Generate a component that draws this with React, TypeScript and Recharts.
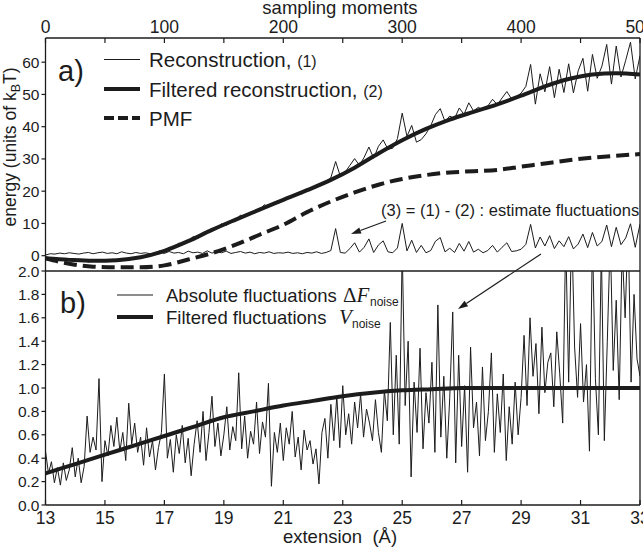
import React from 'react';
import { LineChart, Line, XAxis, YAxis } from 'recharts';

const W = 643;
const H = 547;
const INK = '#1c1c1c';
const SANS = '"Liberation Sans", Arial, Helvetica, sans-serif';
const SERIF = '"Liberation Serif", "Times New Roman", serif';

// panel a) : energy vs sampling moments (top axis)
const momentTicks = [0, 50, 100, 150, 200, 250, 300, 350, 400, 450, 500];
const energyTicks = [0, 10, 20, 30, 40, 50, 60];
const energyDomain = [-4.75, 67.5];

const smoothMoments = [0, 20, 40, 60, 80, 100, 120, 140, 160, 180, 200, 220, 240, 260, 280, 300, 320, 340, 360, 380, 400, 420, 440, 460, 480, 500];
const filteredRecon = [-0.8, -1.3, -1.6, -1.4, -0.5, 1.5, 4.5, 8.0, 11.2, 14.3, 17.3, 20.3, 23.5, 27.3, 31.7, 35.8, 39.3, 42.2, 44.6, 46.9, 49.6, 52.5, 54.8, 56.2, 56.6, 56.2];
const pmf = [-0.8, -2.5, -3.4, -3.6, -3.6, -3.0, -1.2, 0.8, 3.4, 6.5, 9.6, 13.5, 16.8, 19.6, 22.0, 23.8, 25.0, 25.8, 26.2, 26.6, 27.6, 28.6, 29.6, 30.4, 31.0, 31.5];

// noisy series, one value every 4 sampling moments (0..500)
const NOISE_STEP = 4;
const reconstruction = [
  -0.5, -1.1, -0.7, -1.4, -0.9, -1.0, -1.7, -1.1, -1.3, -2.0, -1.2, -1.8, -1.3, -1.9, -1.1, -1.6, -0.9, -1.4, -0.5, -1.0, -0.3, -0.4, 0.6, 0.3, 1.5,
  1.2, 2.6, 2.2, 3.9, 3.5, 4.2, 5.9, 5.4, 6.3, 7.9, 7.6, 8.3, 9.9, 9.4, 10.3, 11.0, 12.6, 12.0, 13.5, 13.2, 14.0, 15.8, 15.1, 16.6, 16.2,
  17.5, 18.3, 18.2, 19.2, 19.2, 20.6, 20.7, 22.0, 21.9, 23.0, 24.2, 29.2, 24.6, 25.9, 28.0, 30.1, 28.0, 30.5, 33.7, 30.2, 33.9, 35.9, 33.0, 33.3, 36.3,
  44.2, 37.0, 40.4, 35.2, 36.0, 37.8, 40.3, 43.8, 45.6, 41.6, 43.3, 42.5, 45.8, 43.8, 47.4, 44.9, 46.0, 45.2, 46.4, 48.5, 46.8, 48.9, 50.9, 48.6, 49.3,
  50.4, 52.5, 59.3, 47.0, 56.4, 50.8, 58.6, 49.0, 57.8, 50.6, 59.5, 50.5, 57.3, 61.2, 51.0, 62.4, 55.0, 58.8, 65.5, 53.2, 65.0, 55.4, 60.6, 66.2, 54.8, 62.0,
];
const fluctuations3 = [
  0.2, 0.6, 0.5, 0.8, 0.6, 0.9, 0.7, 0.5, 0.8, 1.0, 0.6, 0.9, 1.1, 0.7, 0.9, 0.6, 1.2, 0.8, 0.6, 1.0, 0.7, 0.9, 0.6, 0.8, 1.1,
  0.7, 1.3, 0.8, 1.0, 0.6, 1.4, 0.9, 1.1, 0.7, 1.5, 0.8, 1.2, 0.9, 1.4, 0.7, 1.0, 1.3, 0.8, 1.1, 0.6, 1.0, 0.8, 1.2, 0.7, 0.9,
  0.8, 1.1, 0.7, 0.9, 0.6, 1.0, 0.8, 1.2, 0.7, 1.0, 1.6, 8.4, 1.0, 0.8, 2.2, 4.0, 1.1, 2.6, 5.2, 1.0, 3.3, 4.6, 1.2, 0.9, 2.4,
  10.0, 1.5, 4.8, 1.0, 3.2, 0.9, 1.6, 4.5, 5.6, 1.2, 2.3, 1.0, 3.8, 1.4, 4.4, 1.1, 2.0, 0.9, 1.6, 3.2, 1.1, 2.6, 4.0, 1.3, 1.5,
  2.0, 3.5, 9.7, 2.4, 5.8, 3.0, 6.2, 2.2, 4.6, 2.8, 5.9, 2.1, 3.6, 6.7, 2.5, 7.2, 3.0, 4.4, 9.5, 2.8, 8.8, 3.4, 5.5, 9.9, 2.6, 9.8,
];

// panel b) : fluctuations vs extension (Å)
const extTicks = [13, 15, 17, 19, 21, 23, 25, 27, 29, 31, 33];
const noiseTicks = [0, 0.2, 0.4, 0.6, 0.8, 1.0, 1.2, 1.4, 1.6, 1.8, 2.0];
const extWhole = [13, 14, 15, 16, 17, 18, 19, 20, 21, 22, 23, 24, 25, 26, 27, 28, 29, 30, 31, 32, 33];
const vNoise = [0.27, 0.35, 0.43, 0.51, 0.59, 0.67, 0.75, 0.80, 0.85, 0.89, 0.93, 0.96, 0.98, 0.99, 1.0, 1.0, 1.0, 1.0, 1.0, 1.0, 1.0];

const EXT_STEP = 0.1;
const absFluct = [
  0.46, 0.27, 0.37, 0.19, 0.32, 0.17, 0.36, 0.21, 0.30, 0.49,
  0.24, 0.40, 0.19, 0.33, 0.76, 0.45, 0.58, 0.47, 1.08, 0.20,
  0.55, 0.42, 0.68, 0.50, 0.75, 0.46, 0.62, 0.38, 0.87, 0.52,
  0.70, 0.45, 0.58, 0.34, 0.66, 0.41, 0.55, 0.30, 0.49, 0.62,
  1.12, 0.40, 0.56, 0.28, 0.60, 0.44, 0.68, 0.36, 0.57, 0.25,
  0.52, 0.72, 0.45, 0.80, 0.38, 0.62, 0.93, 0.50, 0.70, 0.42,
  0.60, 0.84, 0.47, 0.67, 0.55, 1.13, 0.48, 0.76, 0.40, 0.63,
  0.52, 0.88, 0.44, 0.71, 0.58, 1.04, 0.16, 0.62, 0.45, 0.70,
  0.38, 0.66, 0.52, 0.80, 0.41, 0.58, 0.30, 0.64, 0.47, 0.55,
  0.35, 0.48, 0.18, 0.62, 0.74, 0.40, 0.86, 0.55, 0.93, 0.49,
  1.02, 0.60, 0.78, 0.52, 0.88, 0.66, 0.95, 0.58, 0.82, 0.70,
  0.55, 0.90, 0.62, 0.45, 0.98, 0.72, 1.56, 0.60, 1.28, 0.52,
  2.20, 0.85, 1.40, 0.24, 1.05, 0.62, 1.34, 0.48, 0.96, 0.70,
  1.22, 0.45, 1.71, 0.58, 1.10, 0.40, 0.92, 1.65, 0.36, 1.28,
  0.50, 1.02, 0.28, 1.35, 0.66, 0.88, 0.42, 1.18, 0.55, 0.80,
  1.30, 0.45, 0.95, 0.62, 1.12, 0.38, 0.84, 0.52, 1.05, 0.60,
  0.92, 1.45, 0.85, 1.60, 1.10, 1.38, 0.78, 1.52, 0.96, 1.22,
  1.30, 0.84, 1.48, 1.12, 0.70, 2.30, 1.05, 2.40, 1.35, 0.92,
  1.55, 0.88, 1.20, 0.46, 2.30, 1.08, 0.60, 2.20, 0.55, 1.40,
  2.30, 1.15, 1.75, 0.90, 2.20, 1.60, 2.40, 1.05, 1.80, 1.25,
  1.10,
];

const pairs = (xs: number[], ys: number[]) => xs.map((x, i) => ({ x, y: ys[i] }));
const onGrid = (x0: number, step: number, ys: number[]) =>
  ys.map((y, i) => ({ x: +(x0 + i * step).toFixed(2), y }));

const tickFont = (size: number) => ({ fontSize: size, fill: INK, fontFamily: SANS });
const axisLine = { stroke: INK, strokeWidth: 1.3 };
const tickLine = { stroke: INK, strokeWidth: 1.2 };

const Arrow = ({ x1, y1, x2, y2 }: { x1: number; y1: number; x2: number; y2: number }) => {
  const a = Math.atan2(y2 - y1, x2 - x1);
  const len = 10;
  const half = 3.2;
  const bx = x2 - len * Math.cos(a);
  const by = y2 - len * Math.sin(a);
  const px = -Math.sin(a) * half;
  const py = Math.cos(a) * half;
  return (
    <g>
      <line x1={x1} y1={y1} x2={bx} y2={by} stroke={INK} strokeWidth={1.2} />
      <polygon points={`${x2},${y2} ${bx + px},${by + py} ${bx - px},${by - py}`} fill={INK} />
    </g>
  );
};

export default function App() {
  return (
    <div style={{ position: 'absolute', left: 0, top: 0, width: W, height: H, background: '#fff', overflow: 'hidden' }}>
      {/* panel a) */}
      <div style={{ position: 'absolute', left: 0, top: 0 }}>
        <LineChart width={W} height={H} margin={{ top: 0, right: 2, bottom: 275, left: 0 }}>
          <XAxis
            xAxisId="top"
            orientation="top"
            type="number"
            dataKey="x"
            domain={[0, 500]}
            ticks={momentTicks}
            interval={0}
            allowDataOverflow
            height={38}
            tickSize={-5}
            tickMargin={10}
            tickFormatter={(v: number) => (v % 100 === 0 ? String(v) : '')}
            tick={tickFont(17.5)}
            axisLine={axisLine}
            tickLine={tickLine}
          />
          <XAxis
            xAxisId="bottom"
            orientation="bottom"
            type="number"
            dataKey="x"
            domain={[0, 500]}
            ticks={momentTicks}
            interval={0}
            allowDataOverflow
            height={1}
            tickSize={-5}
            tick={false}
            axisLine={axisLine}
            tickLine={tickLine}
          />
          <YAxis
            yAxisId="left"
            type="number"
            domain={energyDomain}
            ticks={energyTicks}
            interval={0}
            allowDataOverflow
            width={45.5}
            tickSize={4}
            tickMargin={2}
            tick={tickFont(15.5)}
            axisLine={axisLine}
            tickLine={tickLine}
          />
          <YAxis
            yAxisId="right"
            orientation="right"
            type="number"
            domain={energyDomain}
            ticks={energyTicks}
            interval={0}
            allowDataOverflow
            width={1}
            tickSize={-5}
            tick={false}
            axisLine={axisLine}
            tickLine={tickLine}
          />
          <Line xAxisId="top" yAxisId="left" data={onGrid(0, NOISE_STEP, fluctuations3)} dataKey="y" type="linear"
            stroke={INK} strokeWidth={1} dot={false} activeDot={false} isAnimationActive={false} />
          <Line xAxisId="top" yAxisId="left" data={pairs(smoothMoments, pmf)} dataKey="y" type="monotone"
            stroke={INK} strokeWidth={4} strokeDasharray="13 6" dot={false} activeDot={false} isAnimationActive={false} />
          <Line xAxisId="top" yAxisId="left" data={onGrid(0, NOISE_STEP, reconstruction)} dataKey="y" type="linear"
            stroke={INK} strokeWidth={1} dot={false} activeDot={false} isAnimationActive={false} />
          <Line xAxisId="top" yAxisId="left" data={pairs(smoothMoments, filteredRecon)} dataKey="y" type="monotone"
            stroke={INK} strokeWidth={4} dot={false} activeDot={false} isAnimationActive={false} />
        </LineChart>
      </div>

      {/* panel b) */}
      <div style={{ position: 'absolute', left: 0, top: 0 }}>
        <LineChart width={W} height={H} margin={{ top: 271, right: 2, bottom: 0, left: 0 }}>
          <XAxis
            xAxisId="ext"
            orientation="bottom"
            type="number"
            dataKey="x"
            domain={[13, 33]}
            ticks={extTicks}
            interval={0}
            allowDataOverflow
            height={42}
            tickSize={-5}
            tickMargin={12}
            tick={tickFont(17.5)}
            axisLine={axisLine}
            tickLine={tickLine}
          />
          <YAxis
            yAxisId="left"
            type="number"
            domain={[0, 2]}
            ticks={noiseTicks}
            interval={0}
            allowDataOverflow
            width={45.5}
            tickSize={4}
            tickMargin={2}
            tickFormatter={(v: number) => v.toFixed(1)}
            tick={tickFont(15.5)}
            axisLine={axisLine}
            tickLine={tickLine}
          />
          <YAxis
            yAxisId="right"
            orientation="right"
            type="number"
            domain={[0, 2]}
            ticks={noiseTicks}
            interval={0}
            allowDataOverflow
            width={1}
            tickSize={-5}
            tick={false}
            axisLine={axisLine}
            tickLine={tickLine}
          />
          <Line xAxisId="ext" yAxisId="left" data={onGrid(13, EXT_STEP, absFluct)} dataKey="y" type="linear"
            stroke={INK} strokeWidth={1} dot={false} activeDot={false} isAnimationActive={false} />
          <Line xAxisId="ext" yAxisId="left" data={pairs(extWhole, vNoise)} dataKey="y" type="monotone"
            stroke={INK} strokeWidth={4} dot={false} activeDot={false} isAnimationActive={false} />
        </LineChart>
      </div>

      {/* titles, legends and annotations */}
      <svg width={W} height={H} style={{ position: 'absolute', left: 0, top: 0, pointerEvents: 'none' }}
        fontFamily={SANS} fill={INK}>
        <text x={340} y={14} fontSize={18.5} textAnchor="middle">sampling moments</text>
        <text x={340} y={543} fontSize={18.5} textAnchor="middle" xmlSpace="preserve">extension  (Å)</text>
        <text transform="translate(16,147) rotate(-90)" fontSize={17.5} textAnchor="middle">
          energy (units of k<tspan fontSize={12.5} dy={4}>B</tspan><tspan dy={-4}>T)</tspan>
        </text>

        <text x={58} y={81} fontSize={29}>a)</text>
        <line x1={104} x2={140} y1={59.5} y2={59.5} stroke={INK} strokeWidth={1.2} />
        <text x={149} y={66.5} fontSize={20.5}>Reconstruction, <tspan fontSize={16}>(1)</tspan></text>
        <line x1={104} x2={140} y1={89} y2={89} stroke={INK} strokeWidth={4} />
        <text x={149} y={96.5} fontSize={20.5}>Filtered reconstruction, <tspan fontSize={16}>(2)</tspan></text>
        <line x1={104} x2={140} y1={118} y2={118} stroke={INK} strokeWidth={4} strokeDasharray="10 4" />
        <text x={149} y={125.5} fontSize={20.5}>PMF</text>

        <text x={381} y={216} fontSize={16.5}>(3) = (1) - (2) : estimate fluctuations</text>
        <Arrow x1={386} y1={221} x2={351} y2={234} />
        <Arrow x1={541} y1={254} x2={458} y2={309} />

        <text x={60} y={313} fontSize={29}>b)</text>
        <line x1={117} x2={153} y1={295} y2={295} stroke={INK} strokeWidth={1.2} />
        <text x={166} y={301.5} fontSize={18.5}>Absolute fluctuations</text>
        <text x={343} y={302} fontSize={21} fontFamily={SERIF}>Δ<tspan fontStyle="italic">F</tspan></text>
        <text x={370} y={306} fontSize={12}>noise</text>
        <line x1={117} x2={153} y1={317} y2={317} stroke={INK} strokeWidth={4} />
        <text x={166} y={323.5} fontSize={18.5}>Filtered fluctuations</text>
        <text x={339} y={324} fontSize={21} fontFamily={SERIF} fontStyle="italic">V</text>
        <text x={352} y={328} fontSize={12}>noise</text>
      </svg>
    </div>
  );
}
